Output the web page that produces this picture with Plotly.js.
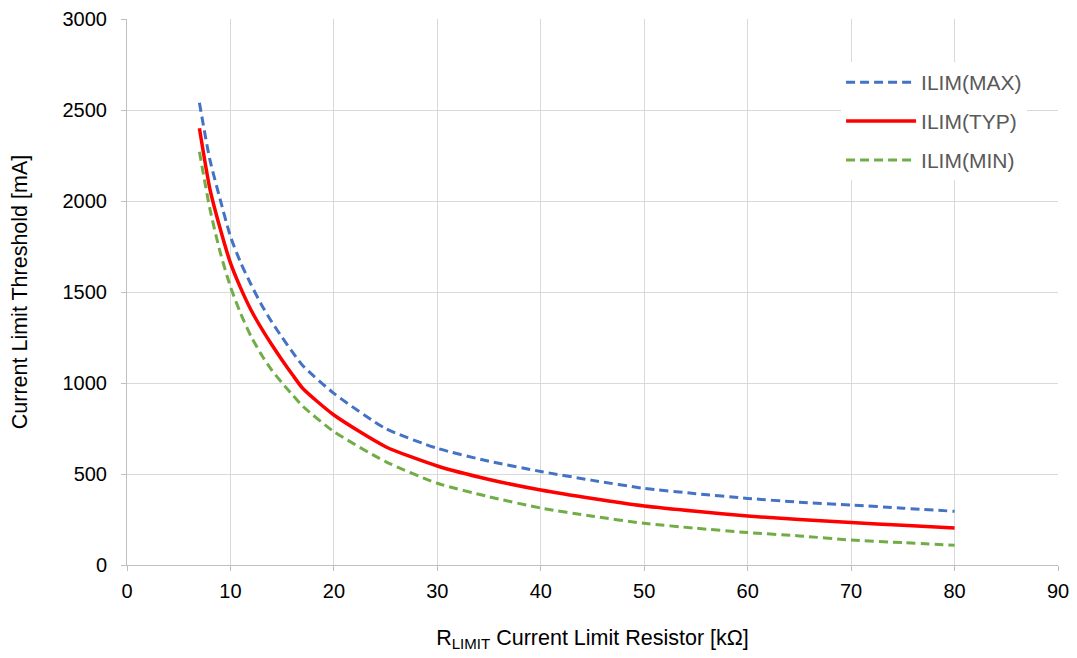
<!DOCTYPE html>
<html>
<head>
<meta charset="utf-8">
<script src="https://cdn.plot.ly/plotly-3.0.1.min.js"></script>
<style>html,body{margin:0;padding:0;background:#fff;}#chart{width:1077px;height:658px;}</style>
</head>
<body>
<div id="chart"></div>
<script>
// Resistance R_LIMIT [kΩ]
const rLimit = [7, 8, 9, 10, 11, 12, 13, 14, 15, 16, 17, 20, 25, 30, 35, 40, 45, 50, 55, 60, 65, 70, 75, 80];
// Current limit threshold [mA]
const ilimMax = [2540, 2230, 2010, 1805, 1660, 1540, 1430, 1335, 1250, 1170, 1095, 943, 750, 641, 570, 514, 465, 421, 392, 366, 345, 330, 312, 295];
const ilimTyp = [2400, 2070, 1850, 1660, 1520, 1400, 1300, 1210, 1125, 1045, 970, 824, 650, 544, 470, 412, 365, 324, 295, 269, 250, 233, 218, 203];
const ilimMin = [2270, 1960, 1720, 1529, 1380, 1255, 1155, 1070, 1000, 935, 872, 733, 568, 449, 375, 313, 268, 229, 202, 178, 160, 137, 123, 108];
const seriesNames = ["ILIM(MAX)", "ILIM(TYP)", "ILIM(MIN)"];

const traces = [
  {x: rLimit, y: ilimMax, name: seriesNames[0], legendgroup: "a", mode: "lines", line: {color: "#4472C4", width: 3, dash: "9px,5px", shape: "spline", smoothing: 0.6}},
  {x: rLimit, y: ilimTyp, name: seriesNames[1], legendgroup: "b", mode: "lines", line: {color: "#FF0000", width: 3.5, shape: "spline", smoothing: 0.6}},
  {x: rLimit, y: ilimMin, name: seriesNames[2], legendgroup: "c", mode: "lines", line: {color: "#70AD47", width: 3, dash: "9px,5px", shape: "spline", smoothing: 0.6}}
];

const layout = {
  width: 1077, height: 658,
  margin: {l: 127, r: 19, t: 19, b: 93},
  paper_bgcolor: "#fff", plot_bgcolor: "#fff",
  font: {family: "Liberation Sans, Arial, sans-serif", size: 20, color: "#000"},
  showlegend: true,
  legend: {
    x: 0.767, y: 0.921, xanchor: "left", yanchor: "top",
    bgcolor: "#fff", borderwidth: 0,
    font: {size: 21, color: "#595959"},
    itemwidth: 70, traceorder: "grouped", tracegroupgap: 8.5
  },
  xaxis: {
    range: [0, 90], dtick: 10, tick0: 0,
    showgrid: true, gridcolor: "#d9d9d9", gridwidth: 1,
    showline: true, linecolor: "#bfbfbf", linewidth: 1,
    ticks: "outside", ticklen: 5, tickcolor: "#bfbfbf",
    ticklabelstandoff: 3,
    zeroline: false,
    tickfont: {size: 20, color: "#000"},
    title: {text: "R<sub>LIMIT</sub> Current Limit Resistor [kΩ]", font: {size: 21.5, color: "#000"}, standoff: 28}
  },
  yaxis: {
    range: [0, 3000], dtick: 500, tick0: 0,
    showgrid: true, gridcolor: "#d9d9d9", gridwidth: 1,
    showline: true, linecolor: "#bfbfbf", linewidth: 1,
    ticks: "outside", ticklen: 5, tickcolor: "#bfbfbf",
    ticklabelstandoff: 10,
    zeroline: false,
    tickfont: {size: 20, color: "#000"},
    title: {text: "Current Limit Threshold [mA]", font: {size: 21.5, color: "#000"}, standoff: 28}
  }
};

Plotly.newPlot("chart", traces, layout, {displayModeBar: false, staticPlot: true});
</script>
</body>
</html>
